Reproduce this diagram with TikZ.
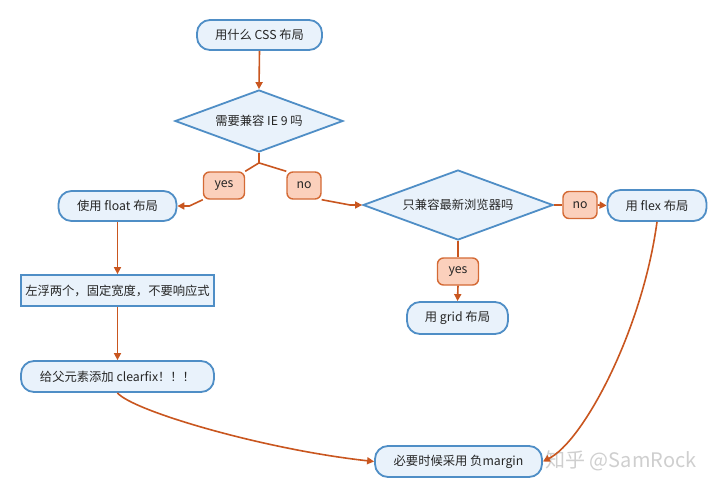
\documentclass[tikz,border=0pt]{standalone}
\usepackage{fontspec}
\setmainfont{Noto Sans CJK SC}
\usetikzlibrary{shapes.geometric,arrows.meta,calc}
\definecolor{boxfill}{HTML}{E9F2FB}
\definecolor{boxdraw}{HTML}{4F8EC6}
\definecolor{lblfill}{HTML}{FBD0BC}
\definecolor{lbldraw}{HTML}{D46A35}
\definecolor{arr}{HTML}{C9561F}
\definecolor{wm}{HTML}{CFCFCF}
\tikzset{
  base/.style={font=\fontsize{12.3}{14}\selectfont, text=black!85, inner sep=0pt, line width=1.8pt},
  rbox/.style={base, draw=boxdraw, fill=boxfill, rounded corners=13pt},
  sbox/.style={base, draw=boxdraw, fill=boxfill},
  dbox/.style={base, draw=boxdraw, fill=boxfill, diamond, aspect=2.7, inner sep=0pt},
  lbl/.style={base, draw=lbldraw, fill=lblfill, rounded corners=6pt, line width=1.4pt, minimum height=27pt},
  conn/.style={draw=arr, line width=1.6pt},
  arrw/.style={conn, -{Triangle[length=7pt,width=7pt]}},
}
\begin{document}
\begin{tikzpicture}[x=1pt,y=-1pt]
\useasboundingbox (0,0) rectangle (720,490);
\fill[white] (0,0) rectangle (720,490);

\node[rbox, minimum width=125pt, minimum height=30pt] (n1) at (259.5,35) {用什么 CSS 布局};
\node[dbox, minimum width=168pt, minimum height=62pt] (d1) at (259,121) {};
\node[base] at (259,121) {需要兼容 IE 9 吗};
\node[lbl, minimum width=41pt] (y1) at (224,185.5) {yes};
\node[lbl, minimum width=34pt] (no1) at (304,185.5) {no};
\node[rbox, minimum width=118pt, minimum height=30pt] (fl) at (117.5,206) {使用 float 布局};
\node[dbox, minimum width=190pt, minimum height=70pt] (d2) at (458,205) {};
\node[base] at (458,205) {只兼容最新浏览器吗};
\node[lbl, minimum width=34pt] (no2) at (580,205) {no};
\node[rbox, minimum width=99pt, minimum height=31pt] (fx) at (657,205.5) {用 flex 布局};
\node[sbox, minimum width=193pt, minimum height=31pt] (lf) at (117.5,290.5) {左浮两个，固定宽度，不要响应式};
\node[rbox, minimum width=193pt, minimum height=31pt] (cf) at (117.5,376.5) {给父元素添加 clearfix！！！};
\node[lbl, minimum width=41pt] (y2) at (458,271.5) {yes};
\node[rbox, minimum width=101pt, minimum height=32pt] (gr) at (457.5,318) {用 grid 布局};
\node[rbox, minimum width=167pt, minimum height=31pt] (mg) at (458.5,461.5) {必要时候采用 负margin};
\node[font=\fontsize{20}{22}\selectfont, text=wm, inner sep=0pt] (wmk) at (621,461) {知乎 @SamRock};

\draw[arrw] (n1.south) -- (d1.north);
\coordinate (sp) at ($(d1.south)+(0,10)$);
\draw[conn] (d1.south) -- (sp);
\draw[conn] (sp) -- (y1.north east);
\draw[conn] (sp) -- (no1.north west);
\draw[arrw] (y1.south west) -- ($(fl.east)+(12,0)$) -- (fl.east);
\draw[arrw] (no1.south east) -- ($(d2.west)+(-12,0)$) -- (d2.west);
\draw[conn] (d2.east) -- (no2.west);
\draw[arrw] (no2.east) -- (fx.west);
\draw[conn] (d2.south) -- (y2.north);
\draw[arrw] (y2.south) -- (gr.north);
\draw[arrw] (fl.south) -- (lf.north);
\draw[arrw] (lf.south) -- (cf.north);
\draw[arrw] (cf.south) .. controls ($(cf.south)+(15,18)$) and ($(mg.west)+(-110,-12)$) .. (mg.west);
\draw[arrw] (fx.south) .. controls ($(fx.south)+(-15,110)$) and ($(mg.east)+(40,-20)$) .. (mg.east);
\end{tikzpicture}
\end{document}
